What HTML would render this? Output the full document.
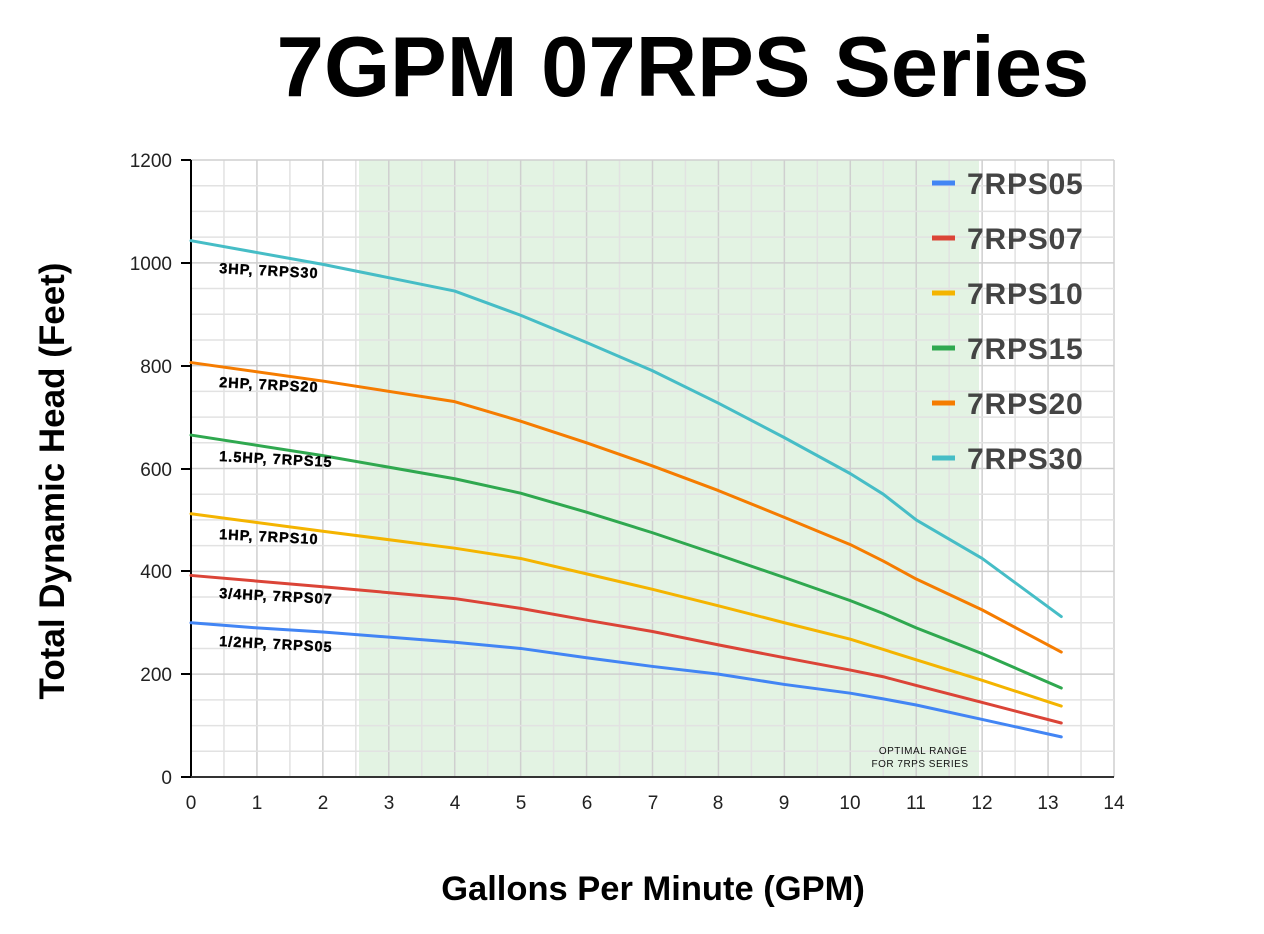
<!DOCTYPE html>
<html><head><meta charset="utf-8"><style>
body{margin:0;background:#fff;}
svg{display:block;font-family:"Liberation Sans",Arial,sans-serif;}
</style></head><body>
<svg width="1264" height="934" viewBox="0 0 1264 934" xmlns="http://www.w3.org/2000/svg">
<text x="683" y="96" font-size="85" font-weight="bold" text-anchor="middle" fill="#000">7GPM 07RPS Series</text>
<rect x="359" y="160" width="620" height="617" fill="#e3f3e3"/>
<g id="grid" stroke-width="1.5">
</g>
<script>
var g=document.getElementById('grid'),ns='http://www.w3.org/2000/svg';
function L(x1,y1,x2,y2,c){var l=document.createElementNS(ns,'line');l.setAttribute('x1',x1);l.setAttribute('y1',y1);l.setAttribute('x2',x2);l.setAttribute('y2',y2);l.setAttribute('stroke',c);g.appendChild(l);}
for(var i=1;i<=28;i++){var x=191+i*923/28;L(x,160,x,777,i%2?'#e2e2e2':'#cfcfcf');}
for(var j=1;j<=24;j++){var y=777-j*617/24;L(191,y,1114,y,j%4?'#e2e2e2':'#cfcfcf');}
</script>
<line x1="191" y1="160" x2="191" y2="778" stroke="#000" stroke-width="2"/>
<line x1="190" y1="777" x2="1114" y2="777" stroke="#333" stroke-width="2"/>
<g stroke="#000" stroke-width="2">
<line x1="181" y1="160" x2="191" y2="160"/><line x1="181" y1="263" x2="191" y2="263"/><line x1="181" y1="366" x2="191" y2="366"/><line x1="181" y1="469" x2="191" y2="469"/><line x1="181" y1="571" x2="191" y2="571"/><line x1="181" y1="674" x2="191" y2="674"/><line x1="181" y1="777" x2="191" y2="777"/>
</g>
<g font-size="19" fill="#222" text-anchor="end">
<text x="172" y="167">1200</text><text x="172" y="270">1000</text><text x="172" y="373">800</text><text x="172" y="476">600</text><text x="172" y="578">400</text><text x="172" y="681">200</text><text x="172" y="784">0</text>
</g>
<g font-size="19" fill="#222" text-anchor="middle">
<text x="191" y="809">0</text><text x="257" y="809">1</text><text x="323" y="809">2</text><text x="389" y="809">3</text><text x="455" y="809">4</text><text x="521" y="809">5</text><text x="587" y="809">6</text><text x="653" y="809">7</text><text x="718" y="809">8</text><text x="784" y="809">9</text><text x="850" y="809">10</text><text x="916" y="809">11</text><text x="982" y="809">12</text><text x="1048" y="809">13</text><text x="1114" y="809">14</text>
</g>
<g transform="translate(191,777) scale(65.93,-0.5142)" fill="none" stroke-width="3" stroke-linejoin="round" stroke-linecap="round">
<polyline vector-effect="non-scaling-stroke" stroke="#4285f4" points="0,300 1,290 2,282 4,262 5,250 6,232 7,215 8,200 9,180 10,163 10.5,152 11,140 12,112 13.2,78"/>
<polyline vector-effect="non-scaling-stroke" stroke="#db4437" points="0,392 2,370 4,347 5,328 6,305 7,283 8,257 9,232 10,208 10.5,195 11,178 12,145 13.2,105"/>
<polyline vector-effect="non-scaling-stroke" stroke="#f4b400" points="0,512 2,478 4,445 5,425 6,395 7,365 8,333 9,300 10,268 10.5,248 11,228 12,188 13.2,138"/>
<polyline vector-effect="non-scaling-stroke" stroke="#2fa84f" points="0,665 2,625 4,580 5,552 6,515 7,475 8,432 9,388 10,343 10.5,318 11,290 12,240 13.2,173"/>
<polyline vector-effect="non-scaling-stroke" stroke="#f57c00" points="0,806 2,770 4,730 5,692 6,650 7,605 8,557 9,505 10,452 10.5,420 11,385 12,325 13.2,243"/>
<polyline vector-effect="non-scaling-stroke" stroke="#46bdc6" points="0,1043 2,997 4,945 5,898 6,845 7,790 8,727 9,660 10,590 10.5,550 11,500 12,425 13.2,312"/>
</g>
<g font-size="14.5" font-weight="bold" fill="#000" letter-spacing="1" stroke="#000" stroke-width="0.4">
<text x="219" y="273" transform="rotate(3 219 273)">3HP, 7RPS30</text>
<text x="219" y="387" transform="rotate(3 219 387)">2HP, 7RPS20</text>
<text x="219" y="461" transform="rotate(3 219 461)">1.5HP, 7RPS15</text>
<text x="219" y="539" transform="rotate(3 219 539)">1HP, 7RPS10</text>
<text x="219" y="598" transform="rotate(3 219 598)">3/4HP, 7RPS07</text>
<text x="219" y="646" transform="rotate(3 219 646)">1/2HP, 7RPS05</text>
</g>
<g font-size="10" fill="#111" text-anchor="middle" letter-spacing="0.5">
<text x="923" y="754">OPTIMAL RANGE</text><text x="920" y="767">FOR 7RPS SERIES</text>
</g>
<g stroke-width="5">
<line x1="932" y1="183" x2="955" y2="183" stroke="#4285f4"/>
<line x1="932" y1="238" x2="955" y2="238" stroke="#db4437"/>
<line x1="932" y1="293" x2="955" y2="293" stroke="#f4b400"/>
<line x1="932" y1="348" x2="955" y2="348" stroke="#2fa84f"/>
<line x1="932" y1="403" x2="955" y2="403" stroke="#f57c00"/>
<line x1="932" y1="458" x2="955" y2="458" stroke="#46bdc6"/>
</g>
<g font-size="30" font-weight="bold" fill="#444" letter-spacing="0.8">
<text x="967" y="194">7RPS05</text><text x="967" y="249">7RPS07</text><text x="967" y="304">7RPS10</text><text x="967" y="359">7RPS15</text><text x="967" y="414">7RPS20</text><text x="967" y="469">7RPS30</text>
</g>
<text x="653" y="900" font-size="34.5" font-weight="bold" text-anchor="middle" fill="#000">Gallons Per Minute (GPM)</text>
<text transform="translate(64,481) rotate(-90)" font-size="35" font-weight="bold" text-anchor="middle" fill="#000">Total Dynamic Head (Feet)</text>
</svg>
</body></html>
